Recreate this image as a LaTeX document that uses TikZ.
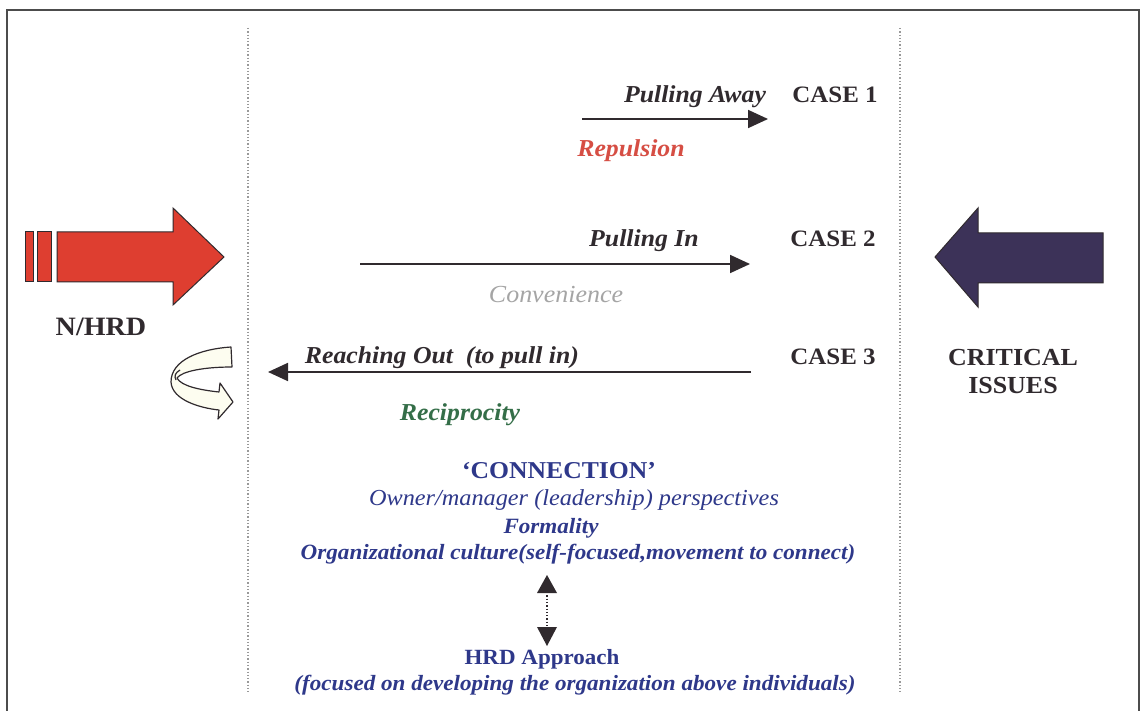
\documentclass[tikz,border=0pt]{standalone}
\usepackage{fontspec}
\setmainfont{Liberation Serif}[FakeStretch=1.06]
\usetikzlibrary{arrows.meta}
\definecolor{ink}{RGB}{48,42,46}
\definecolor{navy}{RGB}{46,56,138}
\definecolor{redarrow}{RGB}{222,62,48}
\definecolor{repred}{RGB}{214,78,68}
\definecolor{convgray}{RGB}{165,165,165}
\definecolor{recgreen}{RGB}{52,110,72}
\definecolor{darkarrow}{RGB}{60,50,88}
\definecolor{ribbon}{RGB}{253,253,240}
\tikzset{
  every node/.style={inner sep=0pt, outer sep=0pt},
  casebox/.style={anchor=base, text=ink, font=\fontsize{23.5}{28}\selectfont\bfseries},
  sidelabel/.style={anchor=base, text=ink, font=\fontsize{24.5}{28}\selectfont\bfseries},
  flowlabel/.style={anchor=base, text=ink, font=\fontsize{24.3}{28}\selectfont\bfseries\itshape},
  linetext/.style={anchor=base, text=navy, font=\fontsize{21.8}{26}\selectfont\bfseries\itshape},
  flow/.style={draw=ink, line width=1.8pt, -{Triangle[length=20pt,width=18pt]}},
  divider/.style={draw=gray!80, line width=1.3pt, dotted},
}
\begin{document}
\begin{tikzpicture}[x=1pt,y=-1pt]
\useasboundingbox (0,0) rectangle (1140,711);
\fill[white] (0,0) rectangle (1140,711);
% outer frame
\draw[gray!60!black, line width=1.6pt] (7,10) rectangle (1139,730);
% dotted dividers
\draw[divider] (248,28) -- (248,692);
\draw[divider] (900,28) -- (900,692);

% N/HRD arrow
\fill[redarrow, draw=ink, line width=1pt] (25,232) rectangle (33,282);
\fill[redarrow, draw=ink, line width=1pt] (37,232) rectangle (51,282);
\fill[redarrow, draw=ink, line width=1pt] (57,232) -- (173,232) -- (173,208) -- (224,257)
  -- (173,305) -- (173,282) -- (57,282) -- cycle;
\node[sidelabel, font=\fontsize{26.5}{30}\selectfont\bfseries] (nhrd) at (101,335) {N/HRD};

% turning ribbon arrow
\draw[ink, line width=1.2pt, fill=ribbon, line join=round]
  (231,347) .. controls (200,349) and (171,360) .. (171,382)
  .. controls (172,400) and (200,408) .. (219,410)
  -- (218,419) -- (233,402) -- (220,383) -- (219,392)
  .. controls (200,390) and (181,386) .. (177,378)
  .. controls (182,371) and (205,367) .. (232,367) -- cycle;
\draw[ink, line width=1.2pt] (180,370) .. controls (175,373) and (174,376) .. (176,380);

% critical issues arrow
\fill[darkarrow, draw=ink, line width=1pt] (935,257) -- (978,208) -- (978,233) -- (1103,233)
  -- (1103,283) -- (978,283) -- (978,307) -- cycle;
\node[sidelabel] (crit) at (1013,365) {CRITICAL};
\node[sidelabel] (issues) at (1013,393) {ISSUES};

% case 1
\node[flowlabel] (away) at (695,103) {Pulling Away};
\node[casebox] (case1) at (835,103) {CASE 1};
\coordinate (a1s) at (582,119);
\coordinate (a1e) at (768,119);
\draw[flow] (a1s) -- (a1e);
\node[flowlabel, text=repred] (repulsion) at (631,157) {Repulsion};

% case 2
\node[flowlabel] (pullin) at (644,247) {Pulling In};
\node[casebox] (case2) at (833,247) {CASE 2};
\coordinate (a2s) at (360,264);
\coordinate (a2e) at (750,264);
\draw[flow] (a2s) -- (a2e);
\node[anchor=base, text=convgray, font=\fontsize{24.5}{28}\selectfont\itshape] (conv) at (556,302) {Convenience};

% case 3
\node[flowlabel] (reach) at (442,363) {Reaching Out\ \ (to pull in)};
\node[casebox] (case3) at (833,364) {CASE 3};
\coordinate (a3s) at (751,372);
\coordinate (a3e) at (268,372);
\draw[flow] (a3s) -- (a3e);
\node[flowlabel, text=recgreen] (recip) at (460,420) {Reciprocity};

% connection block
\node[anchor=base, text=navy, font=\fontsize{24.2}{28}\selectfont\bfseries] (conn) at (559,478) {`CONNECTION'};
\node[anchor=base, text=navy, font=\fontsize{22.9}{26}\selectfont\itshape] (owner) at (574,505) {Owner/manager (leadership) perspectives};
\node[linetext] (formal) at (551,533) {Formality};
\node[linetext] (culture) at (578,559) {Organizational culture(self-focused,movement to connect)};
\coordinate (dtop) at (547,575);
\coordinate (dbot) at (547,646);
\draw[ink, line width=1.3pt, dotted] (547,592) -- (547,628);
\fill[ink] (dtop) -- (557,593) -- (537,593) -- cycle;
\fill[ink] (dbot) -- (557,627) -- (537,627) -- cycle;
\node[anchor=base, text=navy, font=\fontsize{21.7}{26}\selectfont\bfseries] (hrd) at (542,664) {HRD Approach};
\node[linetext] (focus) at (575,690) {(focused on developing the organization above individuals)};
\end{tikzpicture}
\end{document}
